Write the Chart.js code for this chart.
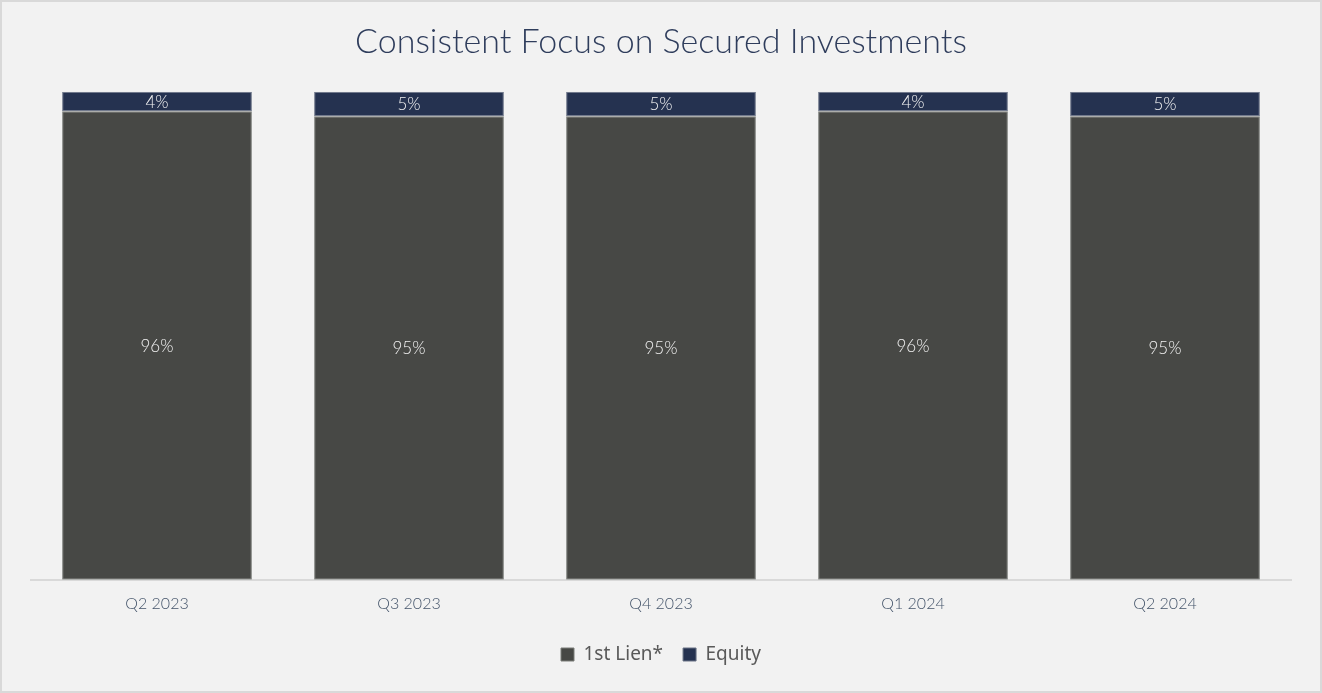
<!DOCTYPE html>
<html>
<head>
<meta charset="utf-8">
<script src="https://cdn.jsdelivr.net/npm/chart.js@4.4.1/dist/chart.umd.min.js"></script>
<style>
  html, body { margin: 0; padding: 0; background: #f2f2f2; }
  #wrap {
    width: 1322px; height: 693px; box-sizing: border-box;
    border: 2px solid #d9d9d9; background: #f2f2f2; position: relative;
  }
</style>
</head>
<body>
<div id="wrap"><canvas id="securedChart"></canvas></div>
<script>
const quarters = ['Q2 2023', 'Q3 2023', 'Q4 2023', 'Q1 2024', 'Q2 2024'];
const firstLien = [96, 95, 95, 96, 95];
const equity = [4, 5, 5, 4, 5];

// draws the % labels in the middle of each segment
const segmentLabels = {
    id: 'segmentLabels',
    afterDatasetsDraw(chart) {
        const ctx = chart.ctx;
        ctx.save();
        ctx.fillStyle = '#f2f2f2';
        ctx.font = '300 17px Lato';
        ctx.textAlign = 'center';
        ctx.textBaseline = 'middle';
        chart.data.datasets.forEach((ds, i) => {
            chart.getDatasetMeta(i).data.forEach((bar, j) => {
                const mid = (bar.y + bar.base) / 2;
                ctx.fillText(ds.data[j] + '%', bar.x, mid + 1);
            });
        });
        ctx.restore();
    }
};

const securedCtx = document.getElementById('securedChart').getContext('2d');
new Chart(securedCtx, {
    type: 'bar',
    data: {
        labels: quarters,
        datasets: [{
            label: '1st Lien*',
            data: firstLien,
            backgroundColor: '#474845',
            borderColor: '#7a7d79',
            borderWidth: 1,
            borderSkipped: false,
            barPercentage: 0.753,
            categoryPercentage: 1
        }, {
            label: 'Equity',
            data: equity,
            backgroundColor: '#253250',
            borderColor: '#6a7386',
            borderWidth: 1,
            borderSkipped: false,
            barPercentage: 0.753,
            categoryPercentage: 1
        }]
    },
    options: {
        responsive: true,
        maintainAspectRatio: false,
        animation: false,
        layout: {
            padding: { left: 29, right: 29, top: 0, bottom: 17 }
        },
        scales: {
            x: {
                stacked: true,
                grid: { display: false },
                border: { color: '#d9d9d9', width: 2 },
                ticks: {
                    color: '#44546a',
                    font: { family: 'Lato', size: 16, weight: 300 },
                    padding: 6
                },
                // extra room between the tick labels and the legend
                afterFit(scale) {
                    scale.height += 6;
                }
            },
            y: {
                stacked: true,
                display: false,
                min: 0,
                max: 100
            }
        },
        plugins: {
            title: {
                display: true,
                text: 'Consistent Focus on Secured Investments',
                color: '#2f3d5c',
                font: { family: 'Lato', size: 34, weight: 300 },
                padding: { top: 20, bottom: 29 }
            },
            legend: {
                position: 'bottom',
                labels: {
                    color: '#595959',
                    font: { family: 'Noto Sans', size: 19 },
                    boxWidth: 13,
                    boxHeight: 13,
                    padding: 20
                }
            },
            tooltip: { enabled: false }
        }
    },
    plugins: [segmentLabels]
});
</script>
</body>
</html>
